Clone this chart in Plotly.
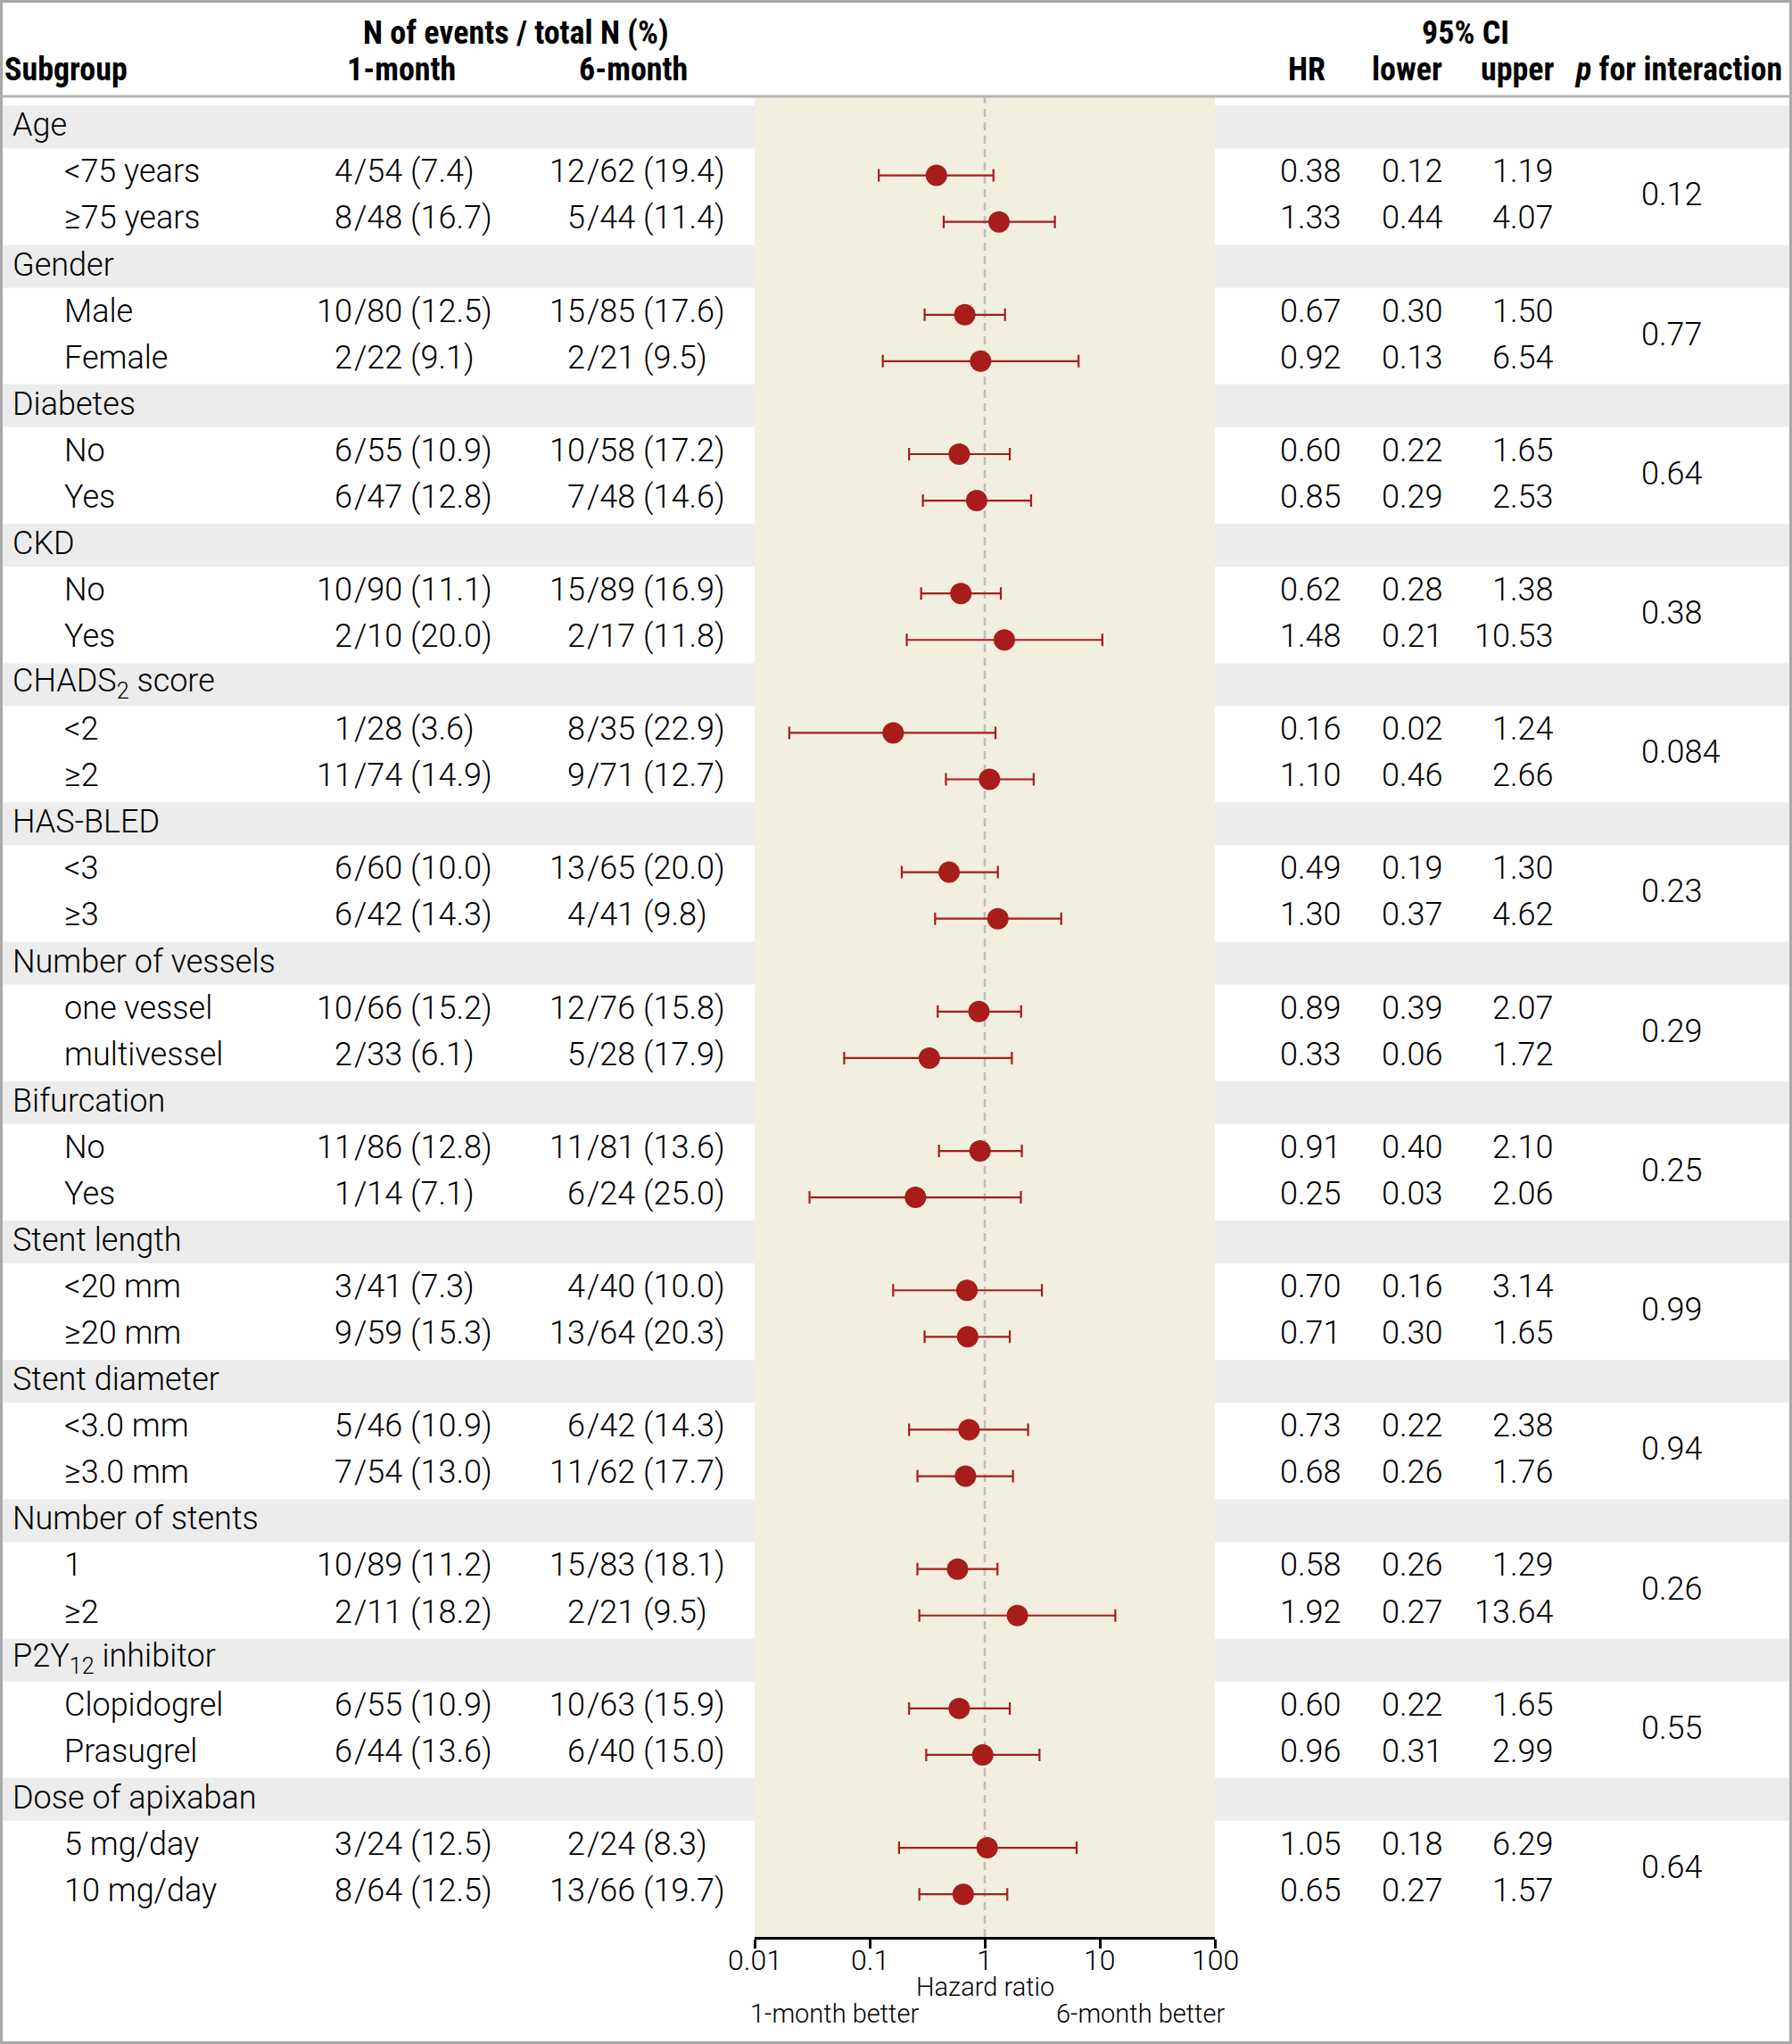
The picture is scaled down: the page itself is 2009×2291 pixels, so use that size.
import math
import plotly.graph_objects as go

# ---------------- data ----------------
groups = ["Age", "Gender", "Diabetes", "CKD", "CHADS<sub>2</sub> score", "HAS-BLED",
          "Number of vessels", "Bifurcation", "Stent length", "Stent diameter",
          "Number of stents", "P2Y<sub>12</sub> inhibitor", "Dose of apixaban"]
sub_labels = ["<75 years", "≥75 years", "Male", "Female", "No", "Yes", "No", "Yes",
              "<2", "≥2", "<3", "≥3", "one vessel", "multivessel", "No", "Yes",
              "<20 mm", "≥20 mm", "<3.0 mm", "≥3.0 mm", "1", "≥2",
              "Clopidogrel", "Prasugrel", "5 mg/day", "10 mg/day"]
ev1 = [4, 8, 10, 2, 6, 6, 10, 2, 1, 11, 6, 6, 10, 2, 11, 1, 3, 9, 5, 7, 10, 2, 6, 6, 3, 8]
n1 = [54, 48, 80, 22, 55, 47, 90, 10, 28, 74, 60, 42, 66, 33, 86, 14, 41, 59, 46, 54, 89, 11, 55, 44, 24, 64]
pct1 = [7.4, 16.7, 12.5, 9.1, 10.9, 12.8, 11.1, 20.0, 3.6, 14.9, 10.0, 14.3, 15.2, 6.1,
        12.8, 7.1, 7.3, 15.3, 10.9, 13.0, 11.2, 18.2, 10.9, 13.6, 12.5, 12.5]
ev6 = [12, 5, 15, 2, 10, 7, 15, 2, 8, 9, 13, 4, 12, 5, 11, 6, 4, 13, 6, 11, 15, 2, 10, 6, 2, 13]
n6 = [62, 44, 85, 21, 58, 48, 89, 17, 35, 71, 65, 41, 76, 28, 81, 24, 40, 64, 42, 62, 83, 21, 63, 40, 24, 66]
pct6 = [19.4, 11.4, 17.6, 9.5, 17.2, 14.6, 16.9, 11.8, 22.9, 12.7, 20.0, 9.8, 15.8, 17.9,
        13.6, 25.0, 10.0, 20.3, 14.3, 17.7, 18.1, 9.5, 15.9, 15.0, 8.3, 19.7]
hr = [0.38, 1.33, 0.67, 0.92, 0.60, 0.85, 0.62, 1.48, 0.16, 1.10, 0.49, 1.30, 0.89, 0.33,
      0.91, 0.25, 0.70, 0.71, 0.73, 0.68, 0.58, 1.92, 0.60, 0.96, 1.05, 0.65]
lo = [0.12, 0.44, 0.30, 0.13, 0.22, 0.29, 0.28, 0.21, 0.02, 0.46, 0.19, 0.37, 0.39, 0.06,
      0.40, 0.03, 0.16, 0.30, 0.22, 0.26, 0.26, 0.27, 0.22, 0.31, 0.18, 0.27]
hi = [1.19, 4.07, 1.50, 6.54, 1.65, 2.53, 1.38, 10.53, 1.24, 2.66, 1.30, 4.62, 2.07, 1.72,
      2.10, 2.06, 3.14, 1.65, 2.38, 1.76, 1.29, 13.64, 1.65, 2.99, 6.29, 1.57]
p_int = ["0.12", "0.77", "0.64", "0.38", "0.084", "0.23", "0.29", "0.25", "0.99", "0.94",
         "0.26", "0.55", "0.64"]
tick_vals = [0.01, 0.1, 1, 10, 100]
tick_text = ["0.01", "0.1", "1", "10", "100"]

# ---------------- layout constants ----------------
W, H = 2009, 2291
BODY = "Roboto, Liberation Sans, Arial, sans-serif"
HEAD = "Liberation Sans Narrow, Arial Narrow, Roboto Condensed, DejaVu Sans Condensed, sans-serif"
RED = "#a81c1c"
BAND = "#ececec"
BEIGE = "#f2efde"

def px(x):
    return x / W

def py(y):
    return 1 - y / H

plot_left, plot_right = 846, 1362
plot_top, plot_bottom = 109, 2171
row0, rowstep = 144.5, 52.07
y_hi = (plot_bottom - row0) / rowstep
y_lo = (plot_top - row0) / rowstep
TSHIFT = 4.2

header_rows = [g * 3 for g in range(len(groups))]
sub_rows = [(k // 2) * 3 + 1 + (k % 2) for k in range(len(sub_labels))]

fig = go.Figure()
fig.add_trace(go.Scatter(
    x=hr, y=sub_rows, mode="markers",
    marker=dict(size=24, color=RED, line=dict(width=0)),
    error_x=dict(type="data", symmetric=False,
                 array=[h - v for v, h in zip(hr, hi)],
                 arrayminus=[v - l for v, l in zip(hr, lo)],
                 color=RED, thickness=2.2, width=7),
    hoverinfo="skip", showlegend=False,
))

shapes = []
for r in header_rows:
    shapes.append(dict(type="rect", xref="paper", yref="y", x0=0, x1=px(plot_left),
                       y0=r - 0.503, y1=r + 0.419, fillcolor=BAND, line=dict(width=0), layer="below"))
    shapes.append(dict(type="rect", xref="paper", yref="y", x0=px(plot_right), x1=1,
                       y0=r - 0.503, y1=r + 0.419, fillcolor=BAND, line=dict(width=0), layer="below"))
shapes.append(dict(type="line", xref="x", yref="paper", x0=1, x1=1,
                   y0=py(plot_bottom), y1=py(plot_top),
                   line=dict(color="#bdbdbd", width=2.5, dash="9px,6px"), layer="below"))
shapes.append(dict(type="line", xref="paper", yref="paper", x0=0, x1=1,
                   y0=py(108), y1=py(108), line=dict(color="#b4b4b4", width=3)))
shapes.append(dict(type="rect", xref="paper", yref="paper", x0=px(1.5), x1=px(W - 1.5),
                   y0=py(H - 1.5), y1=py(1.5), line=dict(color="#a9a9a9", width=3),
                   fillcolor="rgba(0,0,0,0)", layer="above"))

ann = []
def T(text, x, y, xa="left", size=36, family=BODY, yref="y", shift=TSHIFT, xref="paper", weight=300):
    ann.append(dict(text=text, x=px(x) if xref == "paper" else x, xref=xref, y=y, yref=yref,
                    xanchor=xa, yanchor="middle", yshift=shift if yref == "y" else 0,
                    showarrow=False,
                    font=dict(size=size, family=family, color="black", weight=weight)))

HS = 36
T("<b>N of events / total N (%)</b>", 578, py(37), "center", HS, HEAD, "paper", weight=400)
T("<b>Subgroup</b>", 3, py(78), "left", HS, HEAD, "paper", weight=400)
T("<b>1-month</b>", 450, py(78), "center", HS, HEAD, "paper", weight=400)
T("<b>6-month</b>", 710, py(78), "center", HS, HEAD, "paper", weight=400)
T("<b>95% CI</b>", 1643, py(37), "center", HS, HEAD, "paper", weight=400)
T("<b>HR</b>", 1465, py(78), "center", HS, HEAD, "paper", weight=400)
T("<b>lower</b>", 1619, py(78), "right", HS, HEAD, "paper", weight=400)
T("<b>upper</b>", 1745, py(78), "right", HS, HEAD, "paper", weight=400)
T("<b><i>p</i> for interaction</b>", 2000, py(78), "right", HS, HEAD, "paper", weight=400)

for g, r in enumerate(header_rows):
    T(groups[g], 12, r)
    T(p_int[g], 1838, r + 1.5)

S1, S6 = 397, 658
for k, r in enumerate(sub_rows):
    T(sub_labels[k], 70, r)
    T(str(ev1[k]), S1, r, "right")
    T(f"/{n1[k]} ({pct1[k]:.1f})", S1 - 2, r, "left")
    T(str(ev6[k]), S6, r, "right")
    T(f"/{n6[k]} ({pct6[k]:.1f})", S6 - 2, r, "left")
    T(f"{hr[k]:.2f}", 1506, r, "right")
    T(f"{lo[k]:.2f}", 1620, r, "right")
    T(f"{hi[k]:.2f}", 1744, r, "right")

# x tick labels
for v, t in zip(tick_vals, tick_text):
    T(t, math.log10(v), py(2197), "center", 32, BODY, "paper", xref="x")

T("Hazard ratio", 1104, py(2227), "center", 29, BODY, "paper")
T("1-month better", 935, py(2257), "center", 29, BODY, "paper")
T("6-month better", 1278, py(2257), "center", 29, BODY, "paper")

fig.update_layout(
    width=W, height=H, margin=dict(l=0, r=0, t=0, b=0, pad=0),
    paper_bgcolor="white", plot_bgcolor=BEIGE,
    shapes=shapes, annotations=ann, showlegend=False,
    xaxis=dict(type="log", range=[-2, 2], domain=[px(plot_left), px(plot_right)],
               tickvals=tick_vals, ticktext=tick_text, showticklabels=False,
               showgrid=False, zeroline=False,
               showline=True, linecolor="black", linewidth=3, ticks="outside",
               ticklen=10, tickwidth=3, tickcolor="black", fixedrange=True),
    yaxis=dict(range=[y_hi, y_lo], domain=[py(plot_bottom), py(plot_top)],
               showgrid=False, zeroline=False, showticklabels=False, showline=False,
               fixedrange=True),
)

fig.write_html("out.html", config={"displayModeBar": False},
               post_script="document.body.style.margin='0';document.body.style.overflow='hidden';")
